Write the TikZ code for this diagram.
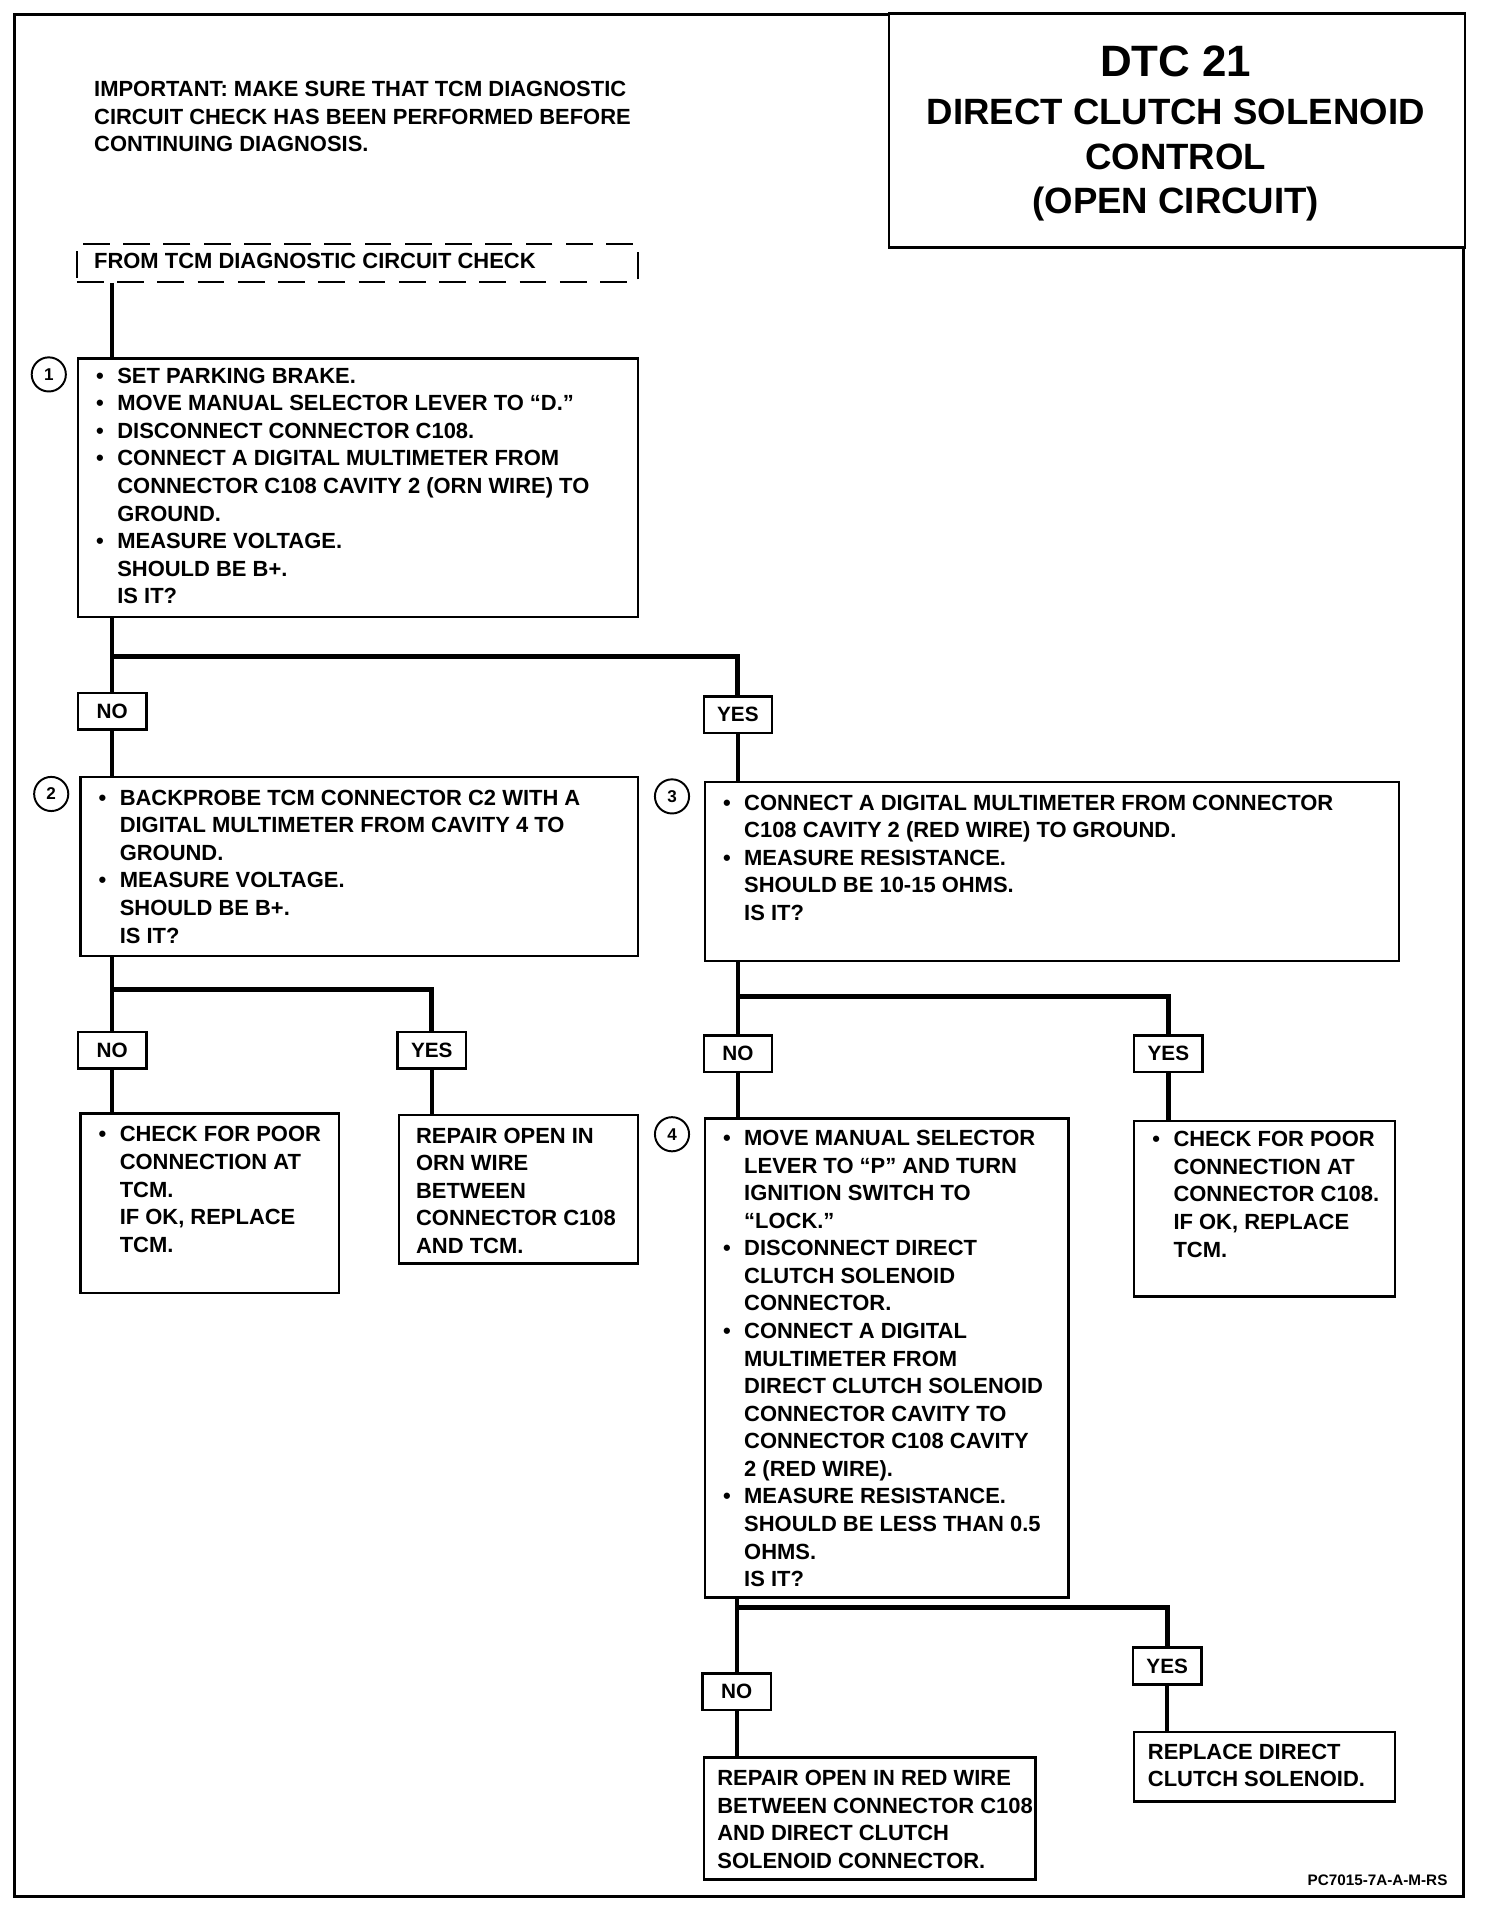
\documentclass[tikz,border=0pt]{standalone}
\usepackage{fontspec}
\setmainfont{Liberation Sans}
\usetikzlibrary{positioning}
\newcommand{\bul}{\llap{\textbullet\hspace{11pt}}}

\begin{document}
\begin{tikzpicture}[x=1pt,y=-1pt,
	font=\bfseries\fontsize{18}{22.6}\selectfont,
	stepbox/.style={draw,line width=2pt,anchor=north west,inner sep=0pt},
	steptext/.style={anchor=north west,inner sep=0pt,align=left},
	answer/.style={draw,line width=2pt,minimum width=56pt,minimum height=30pt,inner sep=0pt,font=\bfseries\fontsize{17}{20}\selectfont},
	stepnum/.style={circle,draw,line width=1.6pt,minimum size=28pt,inner sep=0pt,font=\bfseries\fontsize{14}{16}\selectfont},
	wire/.style={line width=3.5pt},
	fork/.style={line width=4.2pt,line join=miter}]
		\useasboundingbox (0,0) rectangle (1220,1571);
		\draw[line width=2.2pt] (12,12) rectangle (1200,1555);
		
		\node[draw,line width=2pt,fill=white,anchor=north west,minimum width=472pt,minimum height=192pt,inner sep=0pt] (title) at (728,10) {};
		\node[anchor=base,inner sep=0pt,font=\bfseries\fontsize{36}{40}\selectfont] (ttl1) at (964,63) {DTC 21};
		\node[anchor=base,inner sep=0pt,font=\bfseries\fontsize{30}{34}\selectfont] (ttl2) at (964,102) {DIRECT CLUTCH SOLENOID};
		\node[anchor=base,inner sep=0pt,font=\bfseries\fontsize{30}{34}\selectfont] (ttl3) at (964,139) {CONTROL};
		\node[anchor=base,inner sep=0pt,font=\bfseries\fontsize{30}{34}\selectfont] (ttl4) at (964,175) {(OPEN CIRCUIT)};
		
		\node[steptext] (note) at (77,66.5) {IMPORTANT: MAKE SURE THAT TCM DIAGNOSTIC\\CIRCUIT CHECK HAS BEEN PERFORMED BEFORE\\CONTINUING DIAGNOSIS.};
		
		\node[stepbox,minimum width=460pt,minimum height=31pt,dashed,dash pattern=on 22pt off 11pt] (start) at (62,199) {};
		\node[anchor=west,inner sep=0pt] (starttext) at (77,214) {FROM TCM DIAGNOSTIC CIRCUIT CHECK};
		
		% step boxes
		\node[stepbox,minimum width=459pt,minimum height=212pt] (b1) at (63,293) {};
		\node[stepbox,minimum width=457pt,minimum height=147pt] (b2) at (65,636) {};
		\node[stepbox,minimum width=569pt,minimum height=147pt] (b3) at (577,640) {};
		\node[stepbox,minimum width=298pt,minimum height=393pt] (b4) at (577,916) {};
		\node[stepbox,minimum width=212pt,minimum height=147pt] (r2n) at (65,912) {};
		\node[stepbox,minimum width=196pt,minimum height=122pt] (r2y) at (326,913) {};
		\node[stepbox,minimum width=214pt,minimum height=144pt] (r3y) at (929,918) {};
		\node[stepbox,minimum width=272pt,minimum height=100pt] (r4n) at (576,1440) {};
		\node[stepbox,minimum width=214pt,minimum height=57pt] (r4y) at (929,1419) {};
		
		\node[stepnum] (n1) at (40,307) {1};
		\node[stepnum] (n2) at (42,651) {2};
		\node[stepnum] (n3) at (551,653) {3};
		\node[stepnum] (n4) at (551,930) {4};
		
		\node[steptext] (t1) at (96,301.5) {\bul SET PARKING BRAKE.\\\bul MOVE MANUAL SELECTOR LEVER TO “D.”\\\bul DISCONNECT CONNECTOR C108.\\\bul CONNECT A DIGITAL MULTIMETER FROM\\CONNECTOR C108 CAVITY 2 (ORN WIRE) TO\\GROUND.\\\bul MEASURE VOLTAGE.\\SHOULD BE B+.\\IS IT?};
		\node[steptext] (t2) at (98,647.5) {\bul BACKPROBE TCM CONNECTOR C2 WITH A\\DIGITAL MULTIMETER FROM CAVITY 4 TO\\GROUND.\\\bul MEASURE VOLTAGE.\\SHOULD BE B+.\\IS IT?};
		\node[steptext] (t3) at (610,651.5) {\bul CONNECT A DIGITAL MULTIMETER FROM CONNECTOR\\C108 CAVITY 2 (RED WIRE) TO GROUND.\\\bul MEASURE RESISTANCE.\\SHOULD BE 10-15 OHMS.\\IS IT?};
		\node[steptext] (t4) at (610,926.5) {\bul MOVE MANUAL SELECTOR\\LEVER TO “P” AND TURN\\IGNITION SWITCH TO\\“LOCK.”\\\bul DISCONNECT DIRECT\\CLUTCH SOLENOID\\CONNECTOR.\\\bul CONNECT A DIGITAL\\MULTIMETER FROM\\DIRECT CLUTCH SOLENOID\\CONNECTOR CAVITY TO\\CONNECTOR C108 CAVITY\\2 (RED WIRE).\\\bul MEASURE RESISTANCE.\\SHOULD BE LESS THAN 0.5\\OHMS.\\IS IT?};
		\node[steptext] (tr2n) at (98,923.5) {\bul CHECK FOR POOR\\CONNECTION AT\\TCM.\\IF OK, REPLACE\\TCM.};
		\node[steptext] (tr2y) at (341,924.5) {REPAIR OPEN IN\\ORN WIRE\\BETWEEN\\CONNECTOR C108\\AND TCM.};
		\node[steptext] (tr3y) at (962,927.5) {\bul CHECK FOR POOR\\CONNECTION AT\\CONNECTOR C108.\\IF OK, REPLACE\\TCM.};
		\node[steptext] (tr4n) at (588,1451.5) {REPAIR OPEN IN RED WIRE\\BETWEEN CONNECTOR C108\\AND DIRECT CLUTCH\\SOLENOID CONNECTOR.};
		\node[steptext] (tr4y) at (941,1429.5) {REPLACE DIRECT\\CLUTCH SOLENOID.};
		
		% answers
		\node[answer] (no1) at (92,583) {NO};
		\node[answer] (yes1) at (605,586) {YES};
		\node[answer] (no2) at (92,861) {NO};
		\node[answer] (yes2) at (354,861) {YES};
		\node[answer] (no3) at (605,864) {NO};
		\node[answer] (yes3) at (958,864) {YES};
		\node[answer] (no4) at (604,1387) {NO};
		\node[answer] (yes4) at (957,1366) {YES};
		
		\coordinate (j1) at (92,538);
		\coordinate (j2) at (92,811);
		\coordinate (j3) at (605,817);
		\coordinate (j4) at (604,1318);
		
		\draw[wire] (start.south -| no1) -- (b1.north -| no1);
		\draw[wire] (b1.south -| no1) -- (no1.north);
		\draw[fork] (j1) -| (yes1.north);
		\draw[wire] (no1.south) -- (b2.north -| no1);
		\draw[wire] (yes1.south) -- (b3.north -| yes1);
		
		\draw[wire] (b2.south -| no2) -- (no2.north);
		\draw[fork] (j2) -| (yes2.north);
		\draw[wire] (no2.south) -- (r2n.north -| no2);
		\draw[wire] (yes2.south) -- (r2y.north -| yes2);
		
		\draw[wire] (b3.south -| no3) -- (no3.north);
		\draw[fork] (j3) -| (yes3.north);
		\draw[wire] (no3.south) -- (b4.north -| no3);
		\draw[wire] (yes3.south) -- (r3y.north -| yes3);
		
		\draw[wire] (b4.south -| no4) -- (no4.north);
		\draw[fork] (j4) -| (yes4.north);
		\draw[wire] (no4.south) -- (r4n.north -| no4);
		\draw[wire] (yes4.south) -- (r4y.north -| yes4);
		
		\node[anchor=base east,inner sep=0pt,font=\bfseries\fontsize{12.5}{14}\selectfont] (code) at (1187,1546) {PC7015-7A-A-M-RS};
	\end{tikzpicture}
\end{document}
